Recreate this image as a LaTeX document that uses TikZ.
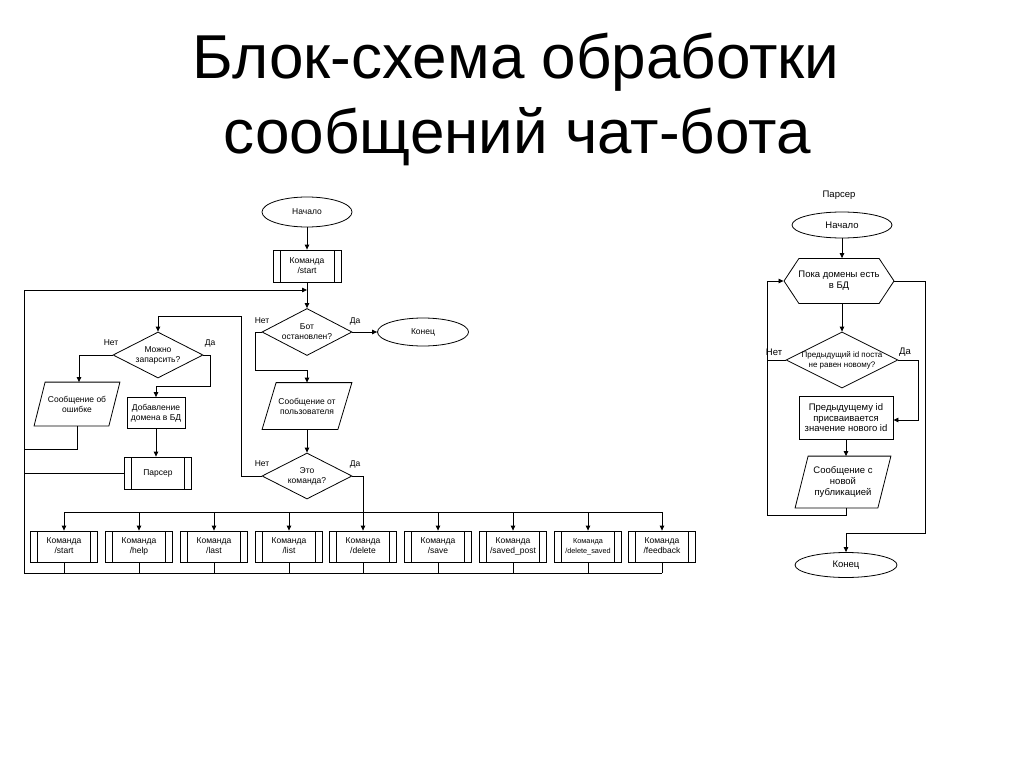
\documentclass[tikz,border=0pt]{standalone}
\usepackage{fontspec}
\setmainfont{Liberation Sans}
\usetikzlibrary{arrows.meta,shapes.geometric,shapes.symbols}
\tikzset{
  every picture/.style={line width=0.8pt},
  lbl/.style={font=\fontsize{8.5}{10}\selectfont, align=center, inner sep=0},
  rlbl/.style={font=\fontsize{9.5}{11}\selectfont, align=center, inner sep=0},
  term/.style={draw, ellipse, inner sep=0, font=\fontsize{8.5}{10}\selectfont},
  proc/.style={draw, rectangle, minimum width=68pt, minimum height=32pt, inner sep=0, align=center,
    font=\fontsize{8.5}{10}\selectfont,
    path picture={\draw ([xshift=7pt]path picture bounding box.north west) -- ([xshift=7pt]path picture bounding box.south west)
      ([xshift=-7pt]path picture bounding box.north east) -- ([xshift=-7pt]path picture bounding box.south east);}},
  dec/.style={draw, diamond, inner sep=0},
  pgram/.style={rectangle, inner sep=0, align=center,
    append after command={\pgfextra{\draw ([xshift=#1]\tikzlastnode.north west) -- ([xshift=#1]\tikzlastnode.north east)
      -- ([xshift=-#1]\tikzlastnode.south east) -- ([xshift=-#1]\tikzlastnode.south west) -- cycle;}}},
  arr/.style={-{Triangle[length=5pt,width=4.5pt]}},
}
\begin{document}
\begin{tikzpicture}[x=1pt,y=-1pt]
\useasboundingbox (0,0) rectangle (1024,767);
% title
\node[anchor=base, inner sep=0, font=\fontsize{62}{62}\selectfont] (t1) at (516,79) {Блок-схема обработки};
\node[anchor=base, inner sep=0, font=\fontsize{62}{62}\selectfont] (t2) at (517,154) {сообщений чат-бота};

% ---------- left chart ----------
\node[term, minimum width=90pt, minimum height=30pt] (start1) at (307,212) {Начало};
\node[proc] (cmdstart) at (307,266) {Команда\\/start};
\node[dec, minimum width=90pt, minimum height=47pt, label={[lbl]center:Бот\\остановлен?}] (bot) at (307,332) {};
\node[term, minimum width=91pt, minimum height=28pt] (end1) at (423,332) {Конец};
\node[pgram=7pt, minimum width=75pt, minimum height=46pt, lbl] (msg) at (307,406) {Сообщение от\\пользователя};
\node[dec, minimum width=90pt, minimum height=46pt, label={[lbl]center:Это\\команда?}] (cmdq) at (307,476) {};
\node[dec, minimum width=90pt, minimum height=46pt, label={[lbl]center:Можно\\запарсить?}] (canparse) at (158,355) {};
\node[pgram=5.5pt, minimum width=74pt, minimum height=43pt, lbl] (err) at (77,404) {Сообщение об\\ошибке};
\node[draw, rectangle, minimum width=58pt, minimum height=31pt, inner sep=0, lbl] (adddom) at (156,413) {Добавление\\домена в БД};
\node[proc, minimum width=67pt] (parser) at (158,473) {Парсер};

\foreach \i/\x/\t in {1/64/start,2/139/help,3/214/last,4/289/list,5/363/delete,6/438/save,7/513/saved\_post,9/662/feedback}
  \node[proc, minimum width=67pt, minimum height=31pt] (c\i) at (\x,546.5) {Команда\\/\t\vphantom{p}};
\node[proc, minimum width=67pt, minimum height=31pt, font=\fontsize{7.3}{9.5}\selectfont] (c8) at (588,546.5) {Команда\\/delete\_saved\vphantom{p}};

\coordinate (bb) at (24,573);
\coordinate (tb) at (24,512);
\coordinate (jn) at (307,290);
\coordinate (m1) at (255,370);
\coordinate (p1) at (241,316);
\coordinate (a1) at (210,386);
\coordinate (ej) at (24,449);

\draw[arr] (start1) -- (cmdstart);
\draw[arr] (cmdstart) -- (bot.north);
\draw[arr] (bot.east) -- (end1.west);
\draw[arr] (bot.west) -| (m1) -| (msg.north);
\draw[arr] (msg.south) -- (cmdq.north);
\draw[arr] (cmdq.east) -| (c5.north);
\draw (c1.north |- tb) -- (c9.north |- tb);
\foreach \i in {1,2,3,4,6,7,8,9} \draw[arr] (c\i.north |- tb) -- (c\i.north);
\foreach \i in {1,...,9} \draw (c\i.south) -- (c\i.south |- bb);
\draw[arr] (c9.south |- bb) -- (bb) |- (jn);
\draw[arr] (cmdq.west) -| (p1) -| (canparse.north);
\draw[arr] (canparse.west) -| ([xshift=2pt]err.north);
\draw (err.south) |- (ej);
\draw[arr] (canparse.east) -| (a1) -| (adddom.north);
\draw[arr] (adddom.south) -- (parser.north -| adddom.south);
\draw (parser.west) -- (parser.west -| bb);

\node[lbl] (n1) at (262,321) {Нет};
\node[lbl] (y1) at (355,321) {Да};
\node[lbl] (n2) at (262,464) {Нет};
\node[lbl] (y2) at (355,464) {Да};
\node[lbl] (n3) at (111,343) {Нет};
\node[lbl] (y3) at (210,343) {Да};

% ---------- right chart ----------
\node[rlbl] (plabel) at (839,195) {Парсер};
\node[term, minimum width=100pt, minimum height=26pt, font=\fontsize{9.5}{11}\selectfont] (start2) at (842,225) {Начало};
\node[draw, signal, signal to=west and east, signal pointer angle=113, inner sep=0, minimum width=110pt, minimum height=45pt,
  label={[rlbl]center:Пока домены есть\\в БД}] (hex) at (839,281) {};
\node[dec, minimum width=112pt, minimum height=56pt,
  label={[lbl, font=\fontsize{8}{10}\selectfont]center:Предыдущий id поста\\не равен новому?}] (d2) at (842,360) {};
\node[draw, rectangle, minimum width=94pt, minimum height=43pt, inner sep=0, rlbl, font=\fontsize{9.5}{10.5}\selectfont] (rect2) at (846,418) {Предыдущему id\\присваивается\\значение нового id};
\node[pgram=6.5pt, minimum width=82pt, minimum height=51pt, rlbl] (par2) at (843,482) {Сообщение с\\новой\\публикацией};
\node[term, minimum width=102pt, minimum height=25pt, font=\fontsize{9.5}{11}\selectfont] (end2) at (846,565) {Конец};

\coordinate (lp) at (767,515);
\coordinate (rp) at (925,533);
\coordinate (r1) at (918,420);

\draw[arr] (start2) -- (hex.north -| start2);
\draw[arr] (hex.south -| d2) -- (d2.north);
\draw[arr] (d2.east) -| (r1) -- (rect2.east |- r1);
\draw[arr] (rect2.south) -- (rect2.south |- par2.north);
\draw[arr] (rect2.south |- par2.south) |- (lp) |- (hex.west);
\draw (d2.west) -- (d2.west -| lp);
\draw[arr] (hex.east) -| (rp) -| (end2.north);

\node[rlbl] (n4) at (774,352) {Нет};
\node[rlbl] (y4) at (905,352) {Да};
\end{tikzpicture}
\end{document}
